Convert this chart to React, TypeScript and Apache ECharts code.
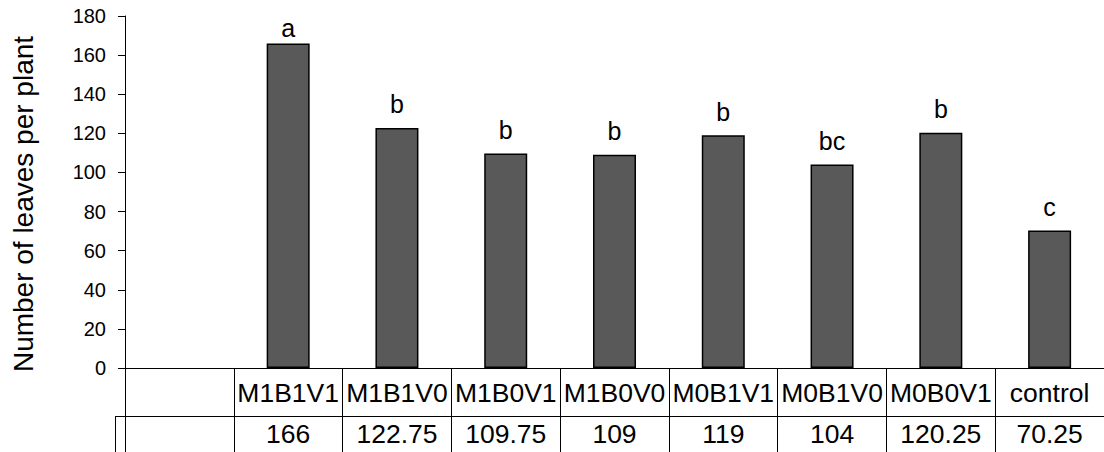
import React, { useEffect, useRef } from "react";
import * as echarts from "echarts";

const categories = ["", "M1B1V1", "M1B1V0", "M1B0V1", "M1B0V0", "M0B1V1", "M0B1V0", "M0B0V1", "control"];
const values = [166, 122.75, 109.75, 109, 119, 104, 120.25, 70.25];
const letters = ["a", "b", "b", "b", "b", "bc", "b", "c"];
const yTicks = { min: 0, max: 180, interval: 20 };
const yTitle = "Number of leaves per plant";

const FONT = '"Liberation Sans", Arial, sans-serif';

export default function App() {
  const ref = useRef<HTMLDivElement>(null);
  useEffect(() => {
    if (!ref.current) return;
    const chart = echarts.init(ref.current, undefined, { renderer: "svg" });
    const valueRow = ["", ...values.map((v) => String(v))];
    const barData = [
      null,
      ...values.map((v, i) => ({
        value: v,
        label: { distance: i === 0 ? 3 : 11 },
      })),
    ];
    const gridLeft = 125;
    const gridWidth = 986;
    chart.setOption({
      animation: false,
      backgroundColor: "#ffffff",
      textStyle: { fontFamily: FONT },
      grid: [
        { left: gridLeft, top: 16, width: gridWidth, height: 352 },
        { left: gridLeft, top: 368, width: gridWidth, height: 48 },
        { left: gridLeft, top: 416, width: gridWidth, height: 60 },
      ],
      xAxis: [
        {
          gridIndex: 0,
          type: "category",
          data: categories,
          axisLine: { show: true, lineStyle: { color: "#000", width: 1 } },
          axisTick: { show: false },
          axisLabel: { show: false },
          splitLine: { show: false },
        },
        {
          gridIndex: 1,
          type: "category",
          data: categories,
          position: "bottom",
          axisLine: { show: true, lineStyle: { color: "#000", width: 1 } },
          axisTick: { show: false },
          axisLabel: {
            show: true,
            inside: true,
            interval: 0,
            margin: 23,
            verticalAlign: "middle",
            color: "#000",
            fontSize: 26.5,
            fontFamily: FONT,
          },
          splitLine: { show: true, interval: 0, lineStyle: { color: "#000", width: 1 } },
        },
        {
          gridIndex: 2,
          type: "category",
          data: valueRow,
          position: "top",
          axisLine: { show: false },
          axisTick: { show: false },
          axisLabel: {
            show: true,
            inside: true,
            interval: 0,
            margin: 18,
            verticalAlign: "middle",
            color: "#000",
            fontSize: 26.5,
            fontFamily: FONT,
          },
          splitLine: { show: true, interval: 0, lineStyle: { color: "#000", width: 1 } },
        },
      ],
      yAxis: [
        {
          gridIndex: 0,
          type: "value",
          min: yTicks.min,
          max: yTicks.max,
          interval: yTicks.interval,
          axisLine: { show: true, lineStyle: { color: "#000", width: 1 } },
          axisTick: { show: true, inside: false, length: 7, lineStyle: { color: "#000" } },
          axisLabel: { margin: 19, color: "#000", fontSize: 20, fontFamily: FONT },
          splitLine: { show: false },
        },
        { gridIndex: 1, type: "value", show: false },
        { gridIndex: 2, type: "value", show: false },
      ],
      series: [
        {
          type: "bar",
          xAxisIndex: 0,
          yAxisIndex: 0,
          data: barData,
          barWidth: 43,
          itemStyle: { color: "#595959", borderColor: "#000", borderWidth: 1.5 },
          label: {
            show: true,
            position: "top",
            color: "#000",
            fontSize: 25,
            fontFamily: FONT,
            formatter: (p: any) => letters[p.dataIndex - 1] ?? "",
          },
        },
      ],
      graphic: [
        {
          type: "text",
          x: 23,
          y: 204,
          rotation: Math.PI / 2,
          style: {
            text: yTitle,
            fontSize: 28,
            fontFamily: FONT,
            fill: "#000",
            align: "center",
            verticalAlign: "middle",
          },
        },
        {
          type: "line",
          shape: { x1: 115, y1: 416.5, x2: 125, y2: 416.5 },
          style: { stroke: "#000", lineWidth: 1 },
        },
        {
          type: "line",
          shape: { x1: 115.5, y1: 416, x2: 115.5, y2: 452 },
          style: { stroke: "#000", lineWidth: 1 },
        },
      ],
    });
    return () => chart.dispose();
  }, []);
  return (
    <div
      ref={ref}
      style={{ position: "absolute", left: 0, top: 0, width: 1104, height: 452 }}
    />
  );
}
